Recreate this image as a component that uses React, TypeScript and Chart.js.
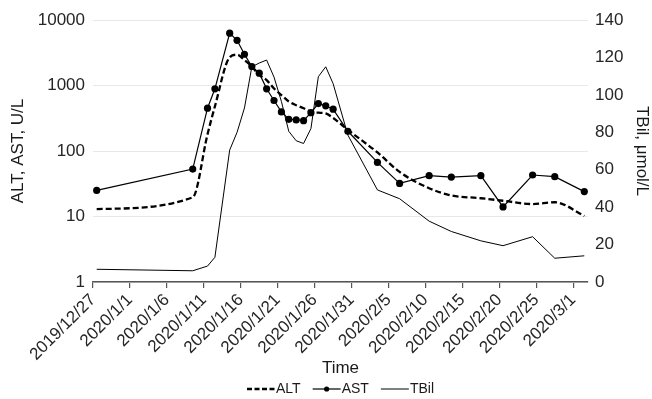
import React, { useEffect, useRef } from 'react';
import { Chart, registerables } from 'chart.js';

Chart.register(...registerables);

const FONT = '"Liberation Sans", Arial, Helvetica, sans-serif';
const BASE = Date.UTC(2019, 11, 27);
function dayOf(s: string): number {
  const [y, m, d] = s.split('/').map(Number);
  return (Date.UTC(y, m - 1, d) - BASE) / 86400000;
}

// x-axis tick labels
const tickLabels = [
  '2019/12/27', '2020/1/1', '2020/1/6', '2020/1/11', '2020/1/16', '2020/1/21', '2020/1/26',
  '2020/1/31', '2020/2/5', '2020/2/10', '2020/2/15', '2020/2/20', '2020/2/25', '2020/3/1',
];

// sampling dates (measured at noon)
const sampleDates = [
  '2019/12/27', '2020/1/9', '2020/1/11', '2020/1/12', '2020/1/14', '2020/1/15', '2020/1/16',
  '2020/1/17', '2020/1/18', '2020/1/19', '2020/1/20', '2020/1/21', '2020/1/22', '2020/1/23',
  '2020/1/24', '2020/1/25', '2020/1/26', '2020/1/27', '2020/1/28', '2020/1/30', '2020/2/3',
  '2020/2/6', '2020/2/10', '2020/2/13', '2020/2/17', '2020/2/20', '2020/2/24', '2020/2/27',
  '2020/3/2',
];

const altValues = [
  13, 19.6, 180, 480, 2700, 2950, 2450, 1950, 1450, 1210, 900, 715, 570, 500,
  450, 400, 385, 375, 320, 210, 95, 48, 27, 21, 19, 17.4, 15.5, 16.5, 10.2,
];
const astValues = [
  25, 53, 450, 890, 6300, 4900, 3000, 1950, 1540, 890, 590, 395, 305, 298,
  290, 385, 530, 490, 435, 200, 67, 32, 42, 40, 42, 14, 43, 40.5, 24,
];
const tbilValues = [
  6.8, 6.0, 8.5, 13.2, 70.5, 80, 93, 115, 117, 118.6, 109.5, 96.5, 80.5, 75.5,
  74, 82, 109.7, 115, 106, 78.5, 49.2, 44.5, 32.5, 27, 22, 19.4, 24.2, 12.7, 14,
];

const leftTicks = [1, 10, 100, 1000, 10000];
const rightMax = 140;
const xMaxDay = 67;

const sampleX = sampleDates.map((d) => dayOf(d) + 0.5);
const tickDays = tickLabels.map((d) => dayOf(d));

const bottomLegend = {
  id: 'bottomLegend',
  afterDraw(chart: any) {
    const ctx = chart.ctx as CanvasRenderingContext2D;
    const ds = chart.data.datasets as any[];
    ctx.save();
    ctx.font = `14px ${FONT}`;
    const sym = 28;
    const gap = 1;
    const space = 12;
    const widths = ds.map((d) => sym + gap + ctx.measureText(d.label).width);
    const total = widths.reduce((a, b) => a + b, 0) + space * (ds.length - 1);
    let x = (chart.chartArea.left + chart.chartArea.right) / 2 - total / 2;
    const y = chart.height - 10;
    ds.forEach((d, i) => {
      ctx.strokeStyle = d.borderColor;
      ctx.lineWidth = d.borderWidth;
      ctx.setLineDash(d.borderDash ? [5, 2.5] : []);
      ctx.beginPath();
      ctx.moveTo(x, y);
      ctx.lineTo(x + sym, y);
      ctx.stroke();
      ctx.setLineDash([]);
      if (d.pointRadius > 0) {
        ctx.fillStyle = d.pointBackgroundColor;
        ctx.beginPath();
        ctx.arc(x + sym / 2, y, 2.6, 0, Math.PI * 2);
        ctx.fill();
      }
      ctx.fillStyle = '#1a1a1a';
      ctx.textBaseline = 'middle';
      ctx.textAlign = 'left';
      ctx.fillText(d.label, x + sym + gap, y);
      x += widths[i] + space;
    });
    ctx.restore();
  },
};

export default function App() {
  const ref = useRef<HTMLCanvasElement | null>(null);

  useEffect(() => {
    if (!ref.current) return;
    Chart.defaults.font.family = FONT;
    const chart = new Chart(ref.current, {
      type: 'line',
      data: {
        datasets: [
          {
            label: 'ALT',
            data: sampleX.map((x, i) => ({ x, y: altValues[i] })),
            borderColor: '#000',
            borderWidth: 2.3,
            borderDash: [6, 3],
            pointRadius: 0,
            cubicInterpolationMode: 'monotone',
            yAxisID: 'y',
          },
          {
            label: 'AST',
            data: sampleX.map((x, i) => ({ x, y: astValues[i] })),
            borderColor: '#000',
            borderWidth: 1.2,
            pointRadius: 3.6,
            pointBorderWidth: 0,
            pointBackgroundColor: '#000',
            yAxisID: 'y',
          },
          {
            label: 'TBil',
            data: sampleX.map((x, i) => ({ x, y: tbilValues[i] })),
            borderColor: '#000',
            borderWidth: 1,
            pointRadius: 0,
            yAxisID: 'y1',
          },
        ] as any,
      },
      options: {
        responsive: false,
        animation: false,
        devicePixelRatio: 1,
        layout: { padding: { top: 20, bottom: 20, left: 0, right: 0 } },
        plugins: {
          legend: { display: false },
          tooltip: { enabled: false },
        },
        scales: {
          x: {
            type: 'linear',
            position: 'bottom',
            min: 0,
            max: xMaxDay,
            afterBuildTicks: (scale: any) => {
              scale.ticks = tickDays.map((v) => ({ value: v }));
            },
            afterFit: (scale: any) => {
              scale.height = 97;
            },
            ticks: {
              autoSkip: false,
              maxRotation: 45,
              minRotation: 45,
              padding: 2,
              color: '#262626',
              font: { size: 17 },
              callback: (v: any) => {
                const i = tickDays.indexOf(Number(v));
                return i >= 0 ? tickLabels[i] : '';
              },
            },
            grid: {
              drawOnChartArea: false,
              drawTicks: true,
              tickLength: 6,
              color: '#555',
              lineWidth: 1.2,
            },
            border: { display: true, color: '#555', width: 1.4 },
            title: {
              display: true,
              text: 'Time',
              color: '#1a1a1a',
              font: { size: 17 },
              padding: 0,
            },
          },
          y: {
            type: 'logarithmic',
            position: 'left',
            min: 1,
            max: 10000,
            afterBuildTicks: (scale: any) => {
              scale.ticks = leftTicks.map((v) => ({ value: v }));
            },
            afterFit: (scale: any) => {
              scale.width = 93;
            },
            ticks: {
              padding: 8,
              color: '#262626',
              font: { size: 17 },
              callback: (v: any) => String(v),
            },
            grid: { color: '#e8e8e8', lineWidth: 1, drawTicks: false },
            border: { display: false },
            title: {
              display: true,
              text: 'ALT, AST, U/L',
              color: '#1a1a1a',
              font: { size: 17 },
              padding: { top: 8, bottom: 0 },
            },
          },
          y1: {
            type: 'linear',
            position: 'right',
            min: 0,
            max: rightMax,
            afterFit: (scale: any) => {
              scale.width = 64;
            },
            ticks: {
              stepSize: 20,
              padding: 7,
              color: '#262626',
              font: { size: 17 },
            },
            grid: { display: false, drawTicks: false },
            border: { display: false },
            title: {
              display: true,
              text: 'TBil, μmol/L',
              color: '#1a1a1a',
              font: { size: 17 },
              padding: { top: 0, bottom: 0 },
            },
          },
        },
      } as any,
      plugins: [bottomLegend],
    });
    return () => chart.destroy();
  }, []);

  return (
    <div style={{ position: 'absolute', left: 0, top: 0, width: 652, height: 399, background: '#fff' }}>
      <canvas ref={ref} width={652} height={399} />
    </div>
  );
}
